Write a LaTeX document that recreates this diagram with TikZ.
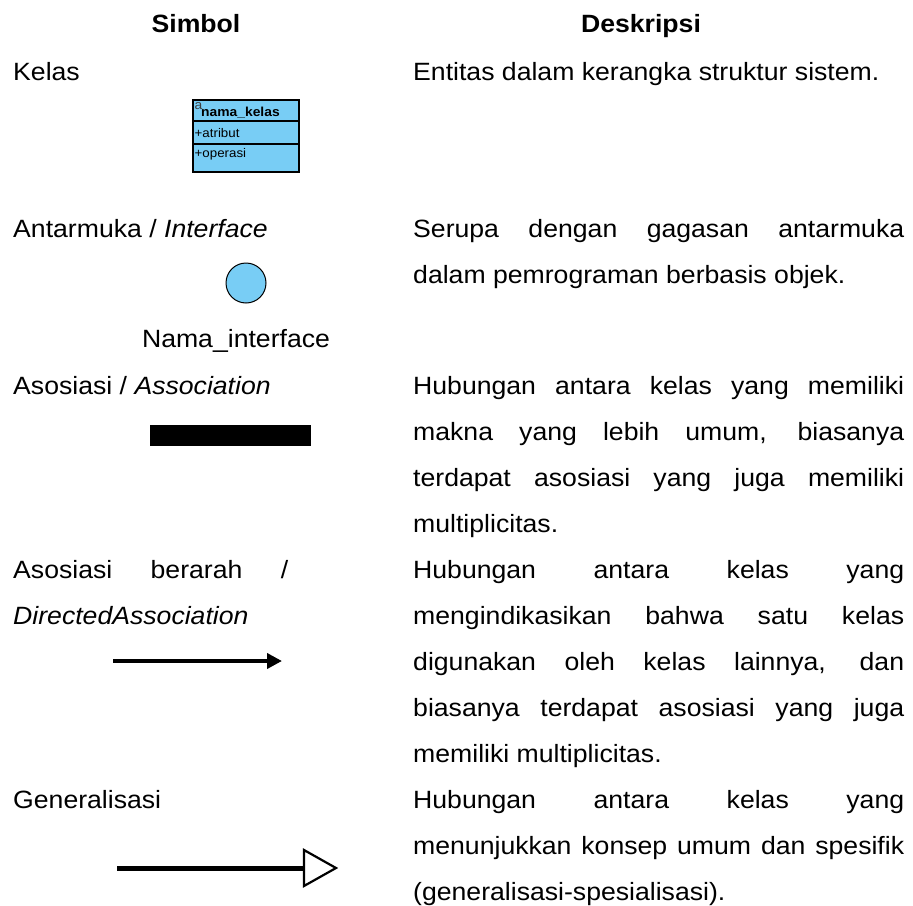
\documentclass[tikz,border=0pt]{standalone}
\usepackage{fontspec}
\setmainfont{Liberation Sans}[FakeStretch=1.065]
\usetikzlibrary{arrows.meta}

\definecolor{umlblue}{RGB}{120,205,245}

% one full-width justified line of the description column
\newcommand{\jline}[1]{\makebox[491pt][s]{#1}}
% one full-width justified line of the symbol column
\newcommand{\sline}[1]{\makebox[275pt][s]{#1}}

\begin{document}
\begin{tikzpicture}[x=1pt,y=-1pt,
  body/.style={inner sep=0pt, anchor=base west, font=\fontsize{25}{30}\selectfont},
  head/.style={inner sep=0pt, anchor=base, font=\fontsize{25}{30}\selectfont\bfseries},
  boxtxt/.style={inner sep=0pt, anchor=base west, font=\fontsize{12.5}{13}\selectfont},
  boxname/.style={inner sep=0pt, anchor=base west, font=\fontsize{13}{13}\selectfont\bfseries},
  classbox/.style={draw=black, line width=1.3pt, fill=umlblue},
  ifacecircle/.style={circle, draw=black, line width=1pt, fill=umlblue, minimum size=40pt, inner sep=0pt},
]
\useasboundingbox (0,0) rectangle (913,905);

% column headings
\node[head] (hsym) at (196,32) {Simbol};
\node[head] (hdesc) at (641,32) {Deskripsi};

% ---- Kelas
\node[body] (kelas) at (13,80) {Kelas};
\node[body] (dkelas) at (413,80) {Entitas dalam kerangka struktur sistem.};
\draw[classbox] (193,100) rectangle (299,172);
\draw[line width=1.3pt] (193,121) -- (299,121);
\draw[line width=1.3pt] (193,144) -- (299,144);
\node[boxtxt, font=\fontsize{13}{13}\selectfont, text=black!75] (kela) at (194.5,109.5) {a};
\node[boxname] (kname) at (201,116.5) {nama\_kelas};
\node[boxtxt] (kattr) at (194.5,137.5) {+atribut};
\node[boxtxt] (kop) at (194.5,157.5) {+operasi};

% ---- Antarmuka
\node[body] (iface) at (13,237) {Antarmuka / \textit{Interface}};
\node[body] (diface1) at (413,237) {\jline{Serupa dengan gagasan antarmuka}};
\node[body] (diface2) at (413,283) {dalam pemrograman berbasis objek.};
\node[ifacecircle] (circ) at (246,283) {};
\node[body, anchor=base] (ifname) at (236,347) {Nama\_interface};

% ---- Asosiasi
\node[body] (assoc) at (13,394) {Asosiasi / \textit{Association}};
\node[body] (dassoc1) at (413,394) {\jline{Hubungan antara kelas yang memiliki}};
\node[body] (dassoc2) at (413,440) {\jline{makna yang lebih umum, biasanya}};
\node[body] (dassoc3) at (413,486) {\jline{terdapat asosiasi yang juga memiliki}};
\node[body] (dassoc4) at (413,532) {multiplicitas.};
\node[fill=black, inner sep=0pt, minimum width=161pt, minimum height=21pt, anchor=north west] (bar) at (150,425) {};

% ---- Asosiasi berarah
\node[body] (dir1) at (13,578) {\sline{Asosiasi berarah /}};
\node[body] (dir2) at (13,624) {\textit{DirectedAssociation}};
\node[body] (ddir1) at (413,578) {\jline{Hubungan antara kelas yang}};
\node[body] (ddir2) at (413,624) {\jline{mengindikasikan bahwa satu kelas}};
\node[body] (ddir3) at (413,670) {\jline{digunakan oleh kelas lainnya, dan}};
\node[body] (ddir4) at (413,716) {\jline{biasanya terdapat asosiasi yang juga}};
\node[body] (ddir5) at (413,762) {memiliki multiplicitas.};
\coordinate (da1) at (113,661);
\coordinate (da2) at (282,661);
\draw[line width=4.3pt, -{Triangle[length=15pt, width=15pt]}] (da1) -- (da2);

% ---- Generalisasi
\node[body] (gen) at (13,808) {Generalisasi};
\node[body] (dgen1) at (413,808) {\jline{Hubungan antara kelas yang}};
\node[body] (dgen2) at (413,854) {\jline{menunjukkan konsep umum dan spesifik}};
\node[body] (dgen3) at (413,900) {(generalisasi-spesialisasi).};
\coordinate (ga1) at (117,868);
\coordinate (ga2) at (304,868);
\coordinate (gtip) at (336,868);
\draw[line width=5pt] (ga1) -- (ga2);
\draw[line width=2.2pt, fill=white, line join=miter]
  ([yshift=-18pt]ga2) -- (gtip) -- ([yshift=18pt]ga2) -- cycle;
\end{tikzpicture}
\end{document}
